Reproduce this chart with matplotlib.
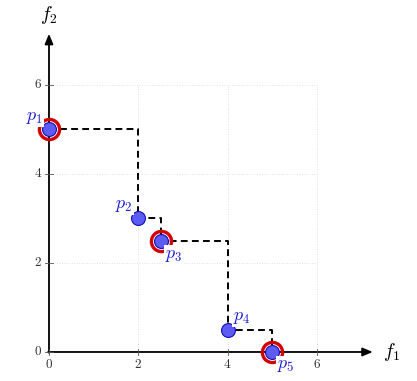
import numpy as np
import matplotlib.pyplot as plt

plt.rcParams['mathtext.fontset'] = 'cm'
plt.rcParams['font.family'] = 'serif'
plt.rcParams['font.serif'] = ['DejaVu Serif']

# points of the front
f1 = [0, 2, 2.5, 4, 5]
f2 = [5, 3, 2.5, 0.5, 0]
names = ['$p_1$', '$p_2$', '$p_3$', '$p_4$', '$p_5$']
circled = [0, 2, 4]
ticks = [0, 2, 4, 6]

blue_fill = '#5c5cf5'
blue_edge = '#1010b0'
blue_text = '#1a1ad0'
red = '#d40000'

fig = plt.figure(figsize=(4.17, 3.81), dpi=100)
ax = fig.add_axes([0, 0, 1, 1])
ax.set_xlim(-1.097, 8.24)
ax.set_ylim(-0.652, 7.91)
ax.axis('off')

# light dotted grid
for t in ticks[1:]:
    ax.plot([t, t], [0, 6], color='#d8d8d8', lw=0.6, ls=(0, (1, 2)), zorder=1)
    ax.plot([0, 6], [t, t], color='#d8d8d8', lw=0.6, ls=(0, (1, 2)), zorder=1)

# axes with arrows
ax.annotate('', xy=(7.25, 0), xytext=(-0.02, 0),
            arrowprops=dict(arrowstyle='-|>,head_length=0.6,head_width=0.25',
                            color='black', lw=1.3, shrinkA=0, shrinkB=0), zorder=2)
ax.annotate('', xy=(0, 7.15), xytext=(0, -0.02),
            arrowprops=dict(arrowstyle='-|>,head_length=0.6,head_width=0.25',
                            color='black', lw=1.3, shrinkA=0, shrinkB=0), zorder=2)
ax.text(7.48, 0, '$f_1$', fontsize=14, ha='left', va='center')
ax.text(0, 7.57, '$f_2$', fontsize=14, ha='center', va='center')

# ticks
for t in ticks:
    ax.plot([t, t], [-0.07, 0.07], color='#555555', lw=0.6, zorder=2)
    ax.plot([-0.09, 0.09], [t, t], color='#555555', lw=0.6, zorder=2)
    ax.text(t, -0.14, '$%d$' % t, fontsize=9.5, ha='center', va='top', color='#333333')
    ax.text(-0.16, t, '$%d$' % t, fontsize=9.5, ha='right', va='center', color='#333333')

# dashed staircase
sx, sy = [f1[0]], [f2[0]]
for i in range(1, len(f1)):
    sx += [f1[i], f1[i]]
    sy += [f2[i - 1], f2[i]]
ax.plot(sx, sy, color='black', lw=1.4, ls=(0, (3.5, 2.2)), zorder=3)

# points
ax.plot([f1[i] for i in circled], [f2[i] for i in circled], 'o', ms=14.5,
        mfc='none', mec=red, mew=2.4, zorder=4)
ax.plot(f1, f2, 'o', ms=10, mfc=blue_fill, mec=blue_edge, mew=0.8, zorder=5)

# labels (white background cuts the red rings)
offsets = [(-0.14, 0.08, 'right', 'bottom'), (-0.12, 0.1, 'right', 'bottom'),
           (0.1, -0.12, 'left', 'top'), (0.12, 0.08, 'left', 'bottom'),
           (0.1, -0.1, 'left', 'top')]
for x, y, s, (dx, dy, ha, va) in zip(f1, f2, names, offsets):
    ax.text(x + dx, y + dy, s, fontsize=13, color=blue_text, ha=ha, va=va,
            zorder=6, bbox=dict(boxstyle='square,pad=0.05', fc='white', ec='none'))

fig.savefig('out.png', dpi=100)
